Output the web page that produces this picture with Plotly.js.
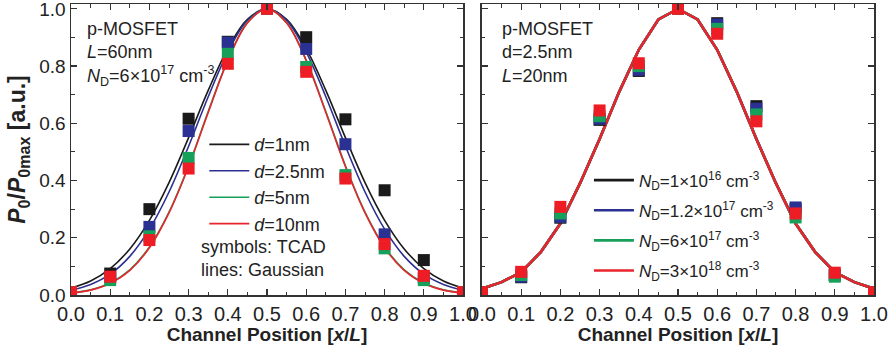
<!DOCTYPE html>
<html><head><meta charset="utf-8">
<script src="https://cdn.plot.ly/plotly-3.0.1.min.js"></script>
<style>html,body{margin:0;padding:0;background:#fff}</style>
</head><body>
<div id="plot" style="width:892px;height:352px"></div>
<script>
// ---- data ----
const tcadX = [0, 0.1, 0.2, 0.3, 0.4, 0.5, 0.6, 0.7, 0.8, 0.9, 1.0];
// left panel: TCAD (symbols) for d = 1, 2.5, 5, 10 nm
const leftTcad_d1   = [0.01, 0.075, 0.300, 0.616, 0.885, 1.0, 0.901, 0.614, 0.366, 0.122, 0.01];
const leftTcad_d25  = [0.01, 0.062, 0.238, 0.573, 0.882, 1.0, 0.860, 0.527, 0.212, 0.060, 0.01];
const leftTcad_d5   = [0.01, 0.052, 0.205, 0.479, 0.843, 1.0, 0.797, 0.419, 0.163, 0.052, 0.01];
const leftTcad_d10  = [0.01, 0.064, 0.192, 0.442, 0.808, 1.0, 0.780, 0.407, 0.178, 0.067, 0.01];
// left panel: Gaussian lines
const lineX = [0, 0.05, 0.1, 0.15, 0.2, 0.25, 0.3, 0.35, 0.4, 0.45, 0.5, 0.55, 0.6, 0.65, 0.7, 0.75, 0.8, 0.85, 0.9, 0.95, 1.0];
const leftLine_d1  = [0.024, 0.049, 0.092, 0.161, 0.261, 0.393, 0.550, 0.715, 0.861, 0.963, 1.0, 0.963, 0.861, 0.715, 0.550, 0.393, 0.261, 0.161, 0.092, 0.049, 0.024];
const leftLine_d25 = [0.017, 0.037, 0.073, 0.135, 0.230, 0.360, 0.520, 0.693, 0.849, 0.960, 1.0, 0.960, 0.849, 0.693, 0.520, 0.360, 0.230, 0.135, 0.073, 0.037, 0.017];
const leftLine_d5  = [0.007, 0.018, 0.042, 0.088, 0.168, 0.290, 0.452, 0.641, 0.821, 0.952, 1.0, 0.952, 0.821, 0.641, 0.452, 0.290, 0.168, 0.088, 0.042, 0.018, 0.007];
const leftLine_d10 = [0.007, 0.017, 0.041, 0.086, 0.165, 0.287, 0.449, 0.638, 0.819, 0.951, 1.0, 0.951, 0.819, 0.638, 0.449, 0.287, 0.165, 0.086, 0.041, 0.017, 0.007];
// right panel: TCAD for N_D = 1e16, 1.2e17, 6e17, 3e18
const rightTcad_n1 = [0.01, 0.062, 0.270, 0.612, 0.783, 1.0, 0.950, 0.660, 0.300, 0.070, 0.01];
const rightTcad_n2 = [0.01, 0.064, 0.273, 0.616, 0.787, 1.0, 0.945, 0.651, 0.306, 0.070, 0.01];
const rightTcad_n3 = [0.01, 0.070, 0.285, 0.625, 0.800, 1.0, 0.930, 0.631, 0.271, 0.064, 0.01];
const rightTcad_n4 = [0.01, 0.081, 0.308, 0.645, 0.810, 1.0, 0.913, 0.607, 0.285, 0.078, 0.01];
// right panel: Gaussian line (all four coincide)
const rightLine = [0.022, 0.045, 0.080, 0.150, 0.250, 0.390, 0.545, 0.710, 0.857, 0.963, 1.0, 0.963, 0.857, 0.710, 0.545, 0.390, 0.250, 0.150, 0.080, 0.045, 0.022];

const xTickVals = [0, 0.1, 0.2, 0.3, 0.4, 0.5, 0.6, 0.7, 0.8, 0.9, 1.0];
const xTickText = ["0.0","0.1","0.2","0.3","0.4","0.5","0.6","0.7","0.8","0.9","1.0"];
const yTickVals = [0, 0.2, 0.4, 0.6, 0.8, 1.0];
const yTickText = ["0.0","0.2","0.4","0.6","0.8","1.0"];

const leftNames = ["<i>d</i>=1nm", "<i>d</i>=2.5nm", "<i>d</i>=5nm", "<i>d</i>=10nm"];
const rightNames = ["<i>N</i><sub>D</sub>=1×10<sup>16</sup> cm<sup>-3</sup>",
                    "<i>N</i><sub>D</sub>=1.2×10<sup>17</sup> cm<sup>-3</sup>",
                    "<i>N</i><sub>D</sub>=6×10<sup>17</sup> cm<sup>-3</sup>",
                    "<i>N</i><sub>D</sub>=3×10<sup>18</sup> cm<sup>-3</sup>"];

// ---- styles ----
const cols = ["#1a1a1a", "#2b3192", "#17a05a", "#ee1d25"];
const lineCols = ["#1a1a1a", "#2b3192", "#17a05a", "#e8242c"];

const traces = [];
const leftLines = [leftLine_d1, leftLine_d25, leftLine_d5, leftLine_d10];
const leftPts = [leftTcad_d1, leftTcad_d25, leftTcad_d5, leftTcad_d10];
for (let i = 0; i < 4; i++) {
  traces.push({x: lineX, y: leftLines[i], type: 'scatter', mode: 'lines', name: leftNames[i],
    line: {color: lineCols[i], width: 1.6, shape: 'spline', smoothing: 1}, xaxis: 'x', yaxis: 'y', legend: 'legend'});
}
for (let i = 0; i < 4; i++) {
  traces.push({x: tcadX, y: leftPts[i], type: 'scatter', mode: 'markers', showlegend: false,
    marker: {symbol: 'square', size: 12, color: cols[i]}, xaxis: 'x', yaxis: 'y'});
}
const rightPts = [rightTcad_n1, rightTcad_n2, rightTcad_n3, rightTcad_n4];
for (let i = 0; i < 4; i++) {
  traces.push({x: lineX, y: rightLine, type: 'scatter', mode: 'lines', name: rightNames[i],
    legendgroup: 'r' + i,
    line: {color: lineCols[i], width: 2.6}, xaxis: 'x2', yaxis: 'y2', legend: 'legend2'});
}
for (let i = 0; i < 4; i++) {
  traces.push({x: tcadX, y: rightPts[i], type: 'scatter', mode: 'markers', showlegend: false,
    marker: {symbol: 'square', size: 12, color: cols[i]}, xaxis: 'x2', yaxis: 'y2'});
}

const ff = 'Arial, Liberation Sans, sans-serif';
const axFont = {family: ff, size: 20, color: '#222'};
function xax(domain, anchor) {
  return {domain: domain, anchor: anchor, range: [0, 1], tickvals: xTickVals, ticktext: xTickText,
    ticks: 'inside', ticklen: 6, tickwidth: 1.2, tickcolor: '#333', mirror: 'ticks', showline: true,
    linecolor: '#333', linewidth: 1.5, showgrid: false, zeroline: false, tickfont: axFont,
    ticklabeloverflow: 'allow',
    minor: {dtick: 0.05, ticks: 'inside', ticklen: 3.5, tickwidth: 1, tickcolor: '#333', showgrid: false},
    title: {text: '<b>Channel Position [<i>x</i>/<i>L</i>]</b>', font: {family: ff, size: 19, color: '#222'}, standoff: 1}};
}
function yax(anchor, showLabels) {
  return {domain: [0, 1], anchor: anchor, range: [0, 1.017], tickvals: yTickVals, ticktext: yTickText,
    showticklabels: showLabels, ticklabeloverflow: 'allow',
    ticks: 'inside', ticklen: 6, tickwidth: 1.2, tickcolor: '#333', mirror: 'ticks', showline: true,
    linecolor: '#333', linewidth: 1.5, showgrid: false, zeroline: false, tickfont: {family: ff, size: 19, color: '#222'},
    minor: {dtick: 0.1, ticks: 'inside', ticklen: 3.5, tickwidth: 1, tickcolor: '#333', showgrid: false}};
}

const yl = yax('x', true);
yl.title = {text: '<b><i>P</i><sub>0</sub>/<i>P</i><sub>0max</sub> [a.u.]</b>', font: {family: ff, size: 23, color: '#222'}, standoff: 7};

const annFont = {family: ff, size: 18, color: '#222'};
const layout = {
  width: 892, height: 352,
  margin: {l: 71, r: 18, t: 4, b: 57},
  paper_bgcolor: '#fff', plot_bgcolor: '#fff',
  showlegend: true,
  xaxis: xax([0, 0.4882], 'y'),
  yaxis: yl,
  xaxis2: xax([0.5118, 1], 'y2'),
  yaxis2: yax('x2', false),
  legend: {x: 0.166, y: 0.58, xanchor: 'left', yanchor: 'top', bgcolor: 'rgba(0,0,0,0)',
    font: annFont, tracegroupgap: 0, itemwidth: 40},
  legend2: {x: 0.645, y: 0.455, xanchor: 'left', yanchor: 'top', bgcolor: 'rgba(0,0,0,0)',
    font: {family: ff, size: 17, color: '#222'}, tracegroupgap: 5, itemwidth: 40},
  annotations: [
    {xref: 'paper', yref: 'paper', x: 0.0174, y: 0.955, xanchor: 'left', yanchor: 'top', align: 'left', showarrow: false,
     text: 'p-MOSFET<br><i>L</i>=60nm<br><i>N</i><sub>D</sub>=6×10<sup>17</sup> cm<sup>-3</sup>', font: annFont},
    {xref: 'paper', yref: 'paper', x: 0.159, y: 0.205, xanchor: 'left', yanchor: 'top', align: 'left', showarrow: false,
     text: 'symbols: TCAD<br>lines: Gaussian', font: annFont},
    {xref: 'paper', yref: 'paper', x: 0.534, y: 0.955, xanchor: 'left', yanchor: 'top', align: 'left', showarrow: false,
     text: 'p-MOSFET<br>d=2.5nm<br><i>L</i>=20nm', font: annFont}
  ]
};

Plotly.newPlot('plot', traces, layout, {displayModeBar: false, staticPlot: true});
</script>
</body></html>
